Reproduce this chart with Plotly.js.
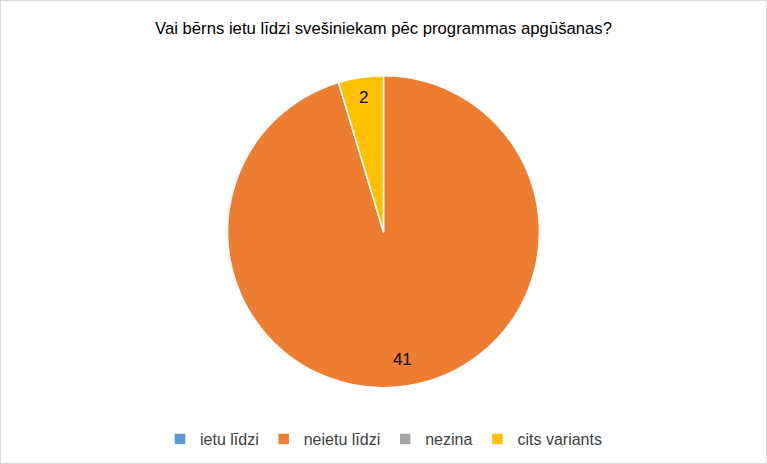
<!DOCTYPE html>
<html>
<head>
<meta charset="utf-8">
<script src="https://cdn.plot.ly/plotly-3.0.1.min.js"></script>
<style>
html,body{margin:0;padding:0;background:#fff;}
#chart{width:765px;height:462px;border:1px solid #d9d9d9;}
</style>
</head>
<body>
<div id="chart"></div>
<script>
const categories = ["ietu līdzi", "neietu līdzi", "nezina", "cits variants"];
const values = [0, 41, 0, 2];
const colors = ["#5B9BD5", "#ED7D31", "#A5A5A5", "#FFC000"];
const titleText = "Vai bērns ietu līdzi svešiniekam pēc programmas apgūšanas?";

const texts = values.map(v => v === 0 ? "" : String(v));
const FONT = "Liberation Sans, Arial, sans-serif";
const pieDomain = {x: [0, 1], y: [0.163, 0.838]};

// main pie: colours, outlines, legend
const mainPie = {
  type: "pie",
  labels: categories,
  values: values,
  textinfo: "none",
  sort: false,
  direction: "clockwise",
  rotation: 0,
  marker: {colors: colors, line: {color: "#fff", width: 1.5}},
  domain: pieDomain,
  hoverinfo: "label+value"
};

// transparent ring on top, only to place the value labels near the rim
const labelRing = {
  type: "pie",
  labels: categories,
  values: values,
  text: texts,
  textinfo: "text",
  textposition: "inside",
  insidetextorientation: "horizontal",
  textfont: {family: FONT, size: 17, color: "#000"},
  hole: 0.66,
  sort: false,
  direction: "clockwise",
  rotation: 0,
  marker: {colors: ["rgba(0,0,0,0)", "rgba(0,0,0,0)", "rgba(0,0,0,0)", "rgba(0,0,0,0)"], line: {width: 0}},
  domain: pieDomain,
  showlegend: false,
  hoverinfo: "skip"
};

const layout = {
  width: 765,
  height: 462,
  margin: {l: 0, r: 0, t: 0, b: 0},
  paper_bgcolor: "#fff",
  font: {family: FONT, color: "#595959"},
  title: {
    text: titleText,
    font: {family: FONT, size: 16.7, color: "#000"},
    x: 0.5, xanchor: "center",
    y: 0.942, yanchor: "middle", yref: "container"
  },
  showlegend: true,
  legend: {
    orientation: "h",
    x: 0.5, xanchor: "center",
    y: 0.052, yanchor: "middle",
    font: {family: FONT, size: 16, color: "#404040"},
    traceorder: "normal"
  }
};

Plotly.newPlot("chart", [mainPie, labelRing], layout, {displayModeBar: false, staticPlot: true});
</script>
</body>
</html>
